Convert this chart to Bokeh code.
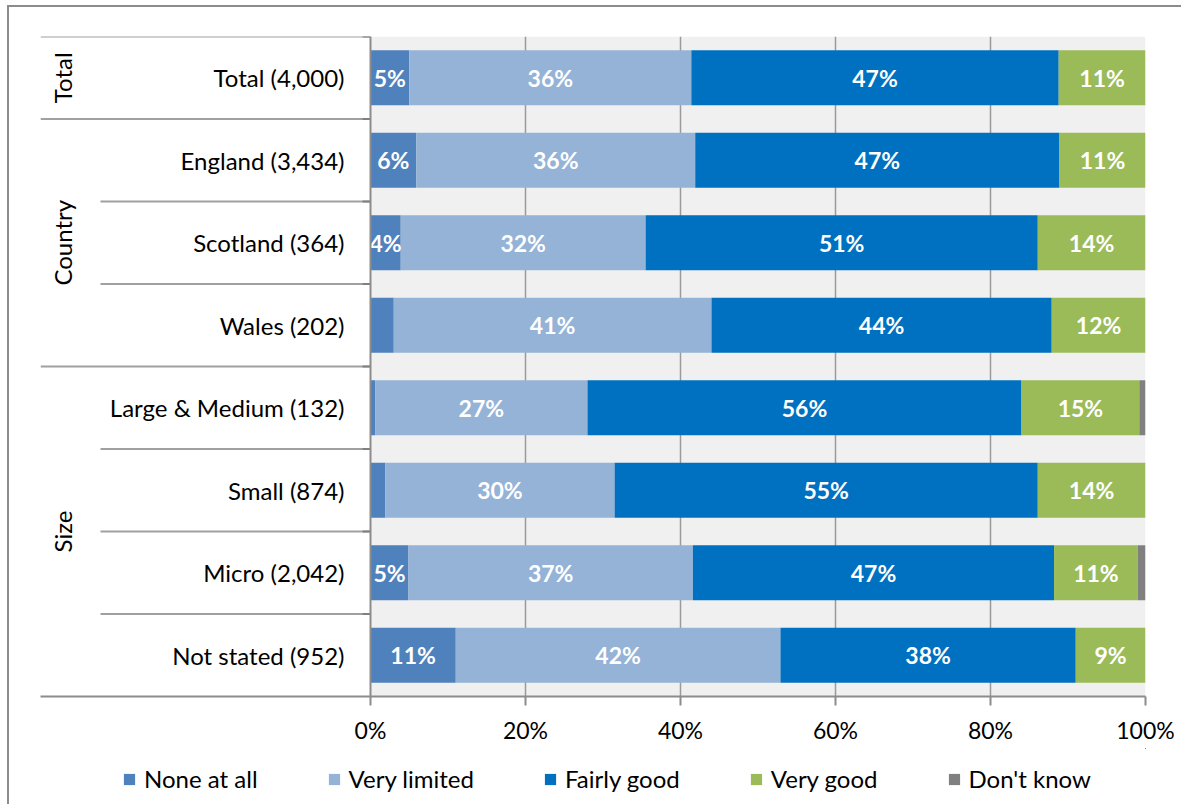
import math
from bokeh.plotting import figure
from bokeh.layouts import column
from bokeh.models import ColumnDataSource, Range1d, FixedTicker, Legend, LegendItem
from bokeh.core.properties import value
from bokeh.embed import file_html
from bokeh.resources import INLINE

# ---------------- data ----------------
categories = ["Total (4,000)", "England (3,434)", "Scotland (364)", "Wales (202)",
              "Large & Medium (132)", "Small (874)", "Micro (2,042)", "Not stated (952)"]
groups = ["Total", "Country", "Size"]
group_first_row = [0, 1, 4]
group_last_row = [0, 3, 7]
series = ["None at all", "Very limited", "Fairly good", "Very good", "Don't know"]
none_at_all = [5.0, 5.9, 3.9, 3.0, 0.6, 1.9, 4.9, 11.0]
very_limited = [36.4, 36.0, 31.6, 41.0, 27.4, 29.6, 36.7, 41.9]
fairly_good = [47.4, 47.0, 50.6, 43.9, 56.0, 54.6, 46.6, 38.1]
very_good = [11.2, 11.1, 13.9, 12.1, 15.2, 13.9, 10.8, 9.0]
dont_know = [0.0, 0.0, 0.0, 0.0, 0.8, 0.0, 1.0, 0.0]
tick_values = [0, 20, 40, 60, 80, 100]
tick_labels = ["0%", "20%", "40%", "60%", "80%", "100%"]

colors = ["#4F81BD", "#95B3D7", "#0070C0", "#9BBB59", "#808080"]
FONT = "Lato"

n = len(categories)
ys = [n - 0.5 - i for i in range(n)]
keys = ["none", "vlim", "fair", "vgood", "dk"]
vals = [none_at_all, very_limited, fairly_good, very_good, dont_know]
src = ColumnDataSource(dict(y=ys, **{k: v for k, v in zip(keys, vals)}))

PX = 7.75                    # pixels per percentage point
XMIN = -330 / PX             # left edge of category table
XSUB = -270 / PX             # start of the inner row separators
XGRP = -308 / PX             # group label position
XTICK = -8 / PX              # category axis tick length
W = 1172

p = figure(width=W, height=741, output_backend="svg", toolbar_location=None,
           x_range=Range1d(XMIN, 100), y_range=Range1d(0, n),
           min_border_left=31, min_border_right=36, min_border_top=29, min_border_bottom=52)
p.outline_line_color = None
p.background_fill_color = "white"
p.border_fill_color = "white"
p.yaxis.visible = False
p.ygrid.visible = False

# plot-area background
p.quad(left=[0], right=[100], bottom=[0], top=[n], fill_color="#F0F0F0",
       line_color=None, level="image")

p.xgrid.ticker = FixedTicker(ticks=tick_values[1:])
p.xgrid.grid_line_color = "#9a9a9a"
p.xgrid.grid_line_width = 1.5

# x axis
ax = p.xaxis[0]
ax.ticker = FixedTicker(ticks=tick_values)
ax.major_label_overrides = {v: l for v, l in zip(tick_values, tick_labels)}
ax.axis_line_color = "#8c8c8c"
ax.axis_line_width = 2
ax.major_tick_line_color = "#8c8c8c"
ax.major_tick_line_width = 2
ax.major_tick_out = 9
ax.major_tick_in = 0
ax.minor_tick_line_color = None
ax.major_label_standoff = 10
ax.major_label_text_font = FONT
ax.major_label_text_font_size = "23px"
ax.major_label_text_color = "black"

# bars
rs = p.hbar_stack(keys, y="y", height=0.667, color=colors, line_color=None, source=src)

# segment labels
lx, ly, lt = [], [], []
left = [0.0] * n
for vlist in vals:
    for i in range(n):
        v = vlist[i]
        if v >= 3.5:
            lx.append(left[i] + v / 2)
            ly.append(ys[i])
            lt.append(f"{round(v)}%")
        left[i] += v
p.text(x=lx, y=ly, text=lt, text_color="white", text_font=value(FONT),
       text_font_style="bold", text_font_size="23px",
       text_align="center", text_baseline="middle")

# category table lines
sx0, sy = [], []
for b in range(n):
    sy.append(n - b)
    sx0.append(XMIN if b in group_first_row else XSUB)
p.segment(x0=sx0, y0=sy, x1=[0] * len(sy), y1=sy, line_color="#a0a0a0", line_width=2)
# category axis ticks
p.segment(x0=[XTICK] * n, y0=sy, x1=[0] * n, y1=sy, line_color="#808080", line_width=2)
# left axis line
p.segment(x0=[0], y0=[0], x1=[0], y1=[n], line_color="#8c8c8c", line_width=2)

# category labels
p.text(x=[0] * n, y=ys, text=categories, x_offset=-26, text_font=value(FONT),
       text_font_size="24px", text_color="black", text_align="right",
       text_baseline="middle")

# group labels
gy = [n - (a + b + 1) / 2 for a, b in zip(group_first_row, group_last_row)]
p.text(x=[XGRP] * len(groups), y=gy, text=groups, angle=math.pi / 2,
       text_font=value(FONT), text_font_size="24px", text_color="black",
       text_align="center", text_baseline="middle")

# ---------------- legend strip ----------------
# same stacked series, drawn far outside this strip's visible ranges: only the legend shows
p2 = figure(width=W, height=56, output_backend="svg", toolbar_location=None,
            x_range=Range1d(-1000, -900), y_range=Range1d(-1000, -999), min_border=0)
p2.axis.visible = False
p2.grid.visible = False
p2.outline_line_color = None
p2.border_fill_color = "white"
p2.background_fill_color = "white"
leg_rs = p2.hbar_stack(keys, y="y", height=0.667, color=colors, line_color=None, source=src)
legend = Legend(items=[LegendItem(label=s, renderers=[r]) for s, r in zip(series, leg_rs)],
                orientation="horizontal", location=(82, 11), spacing=69,
                glyph_width=14, glyph_height=14, label_standoff=8,
                label_text_font=FONT, label_text_font_size="24px",
                label_text_color="black",
                border_line_color=None, background_fill_alpha=0, padding=0, margin=0)
p2.add_layout(legend)

layout = column(p, p2, spacing=0)
layout.styles = {"border-top": "2px solid #8c8c8c", "border-left": "2px solid #8c8c8c",
                 "margin-left": "7px", "margin-top": "5px"}

open("out.html", "w").write(file_html(layout, INLINE))
